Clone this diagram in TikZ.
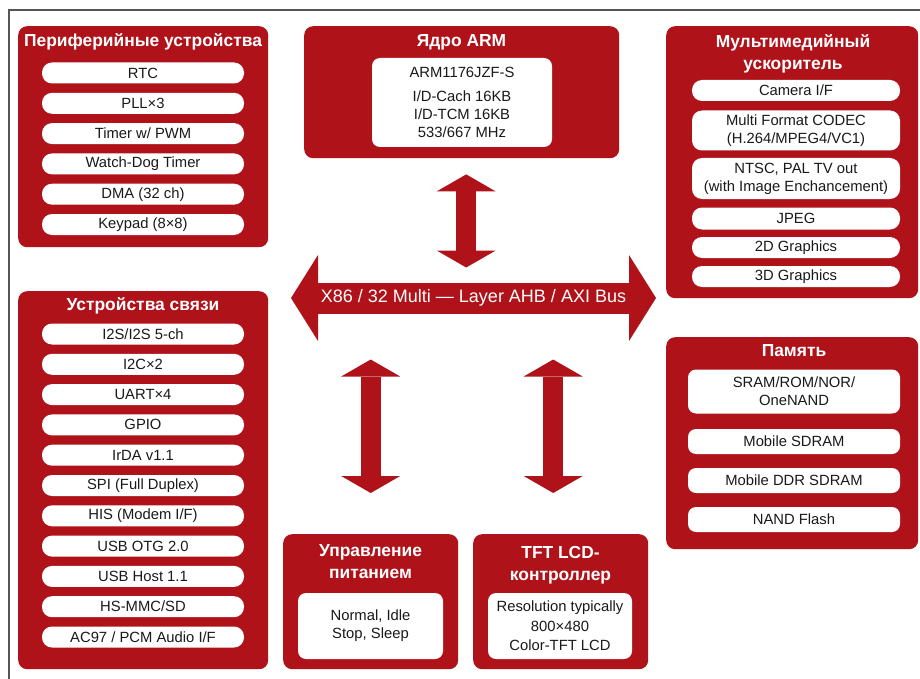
\documentclass[tikz,border=0pt]{standalone}
\usepackage{fontspec}
\setmainfont{Liberation Sans}
\usetikzlibrary{arrows.meta}
\definecolor{chipred}{RGB}{176,18,26}
\definecolor{framegray}{RGB}{85,85,85}
\tikzstyle{group} = [rectangle, 
rounded corners=9pt, 
anchor=north west, 
inner sep=0pt, 
fill=chipred]
\tikzstyle{title} = [text=white, 
align=center, 
font=\fontsize{17.4}{22}\selectfont\bfseries]
\tikzstyle{pill} = [rectangle, 
rounded corners=10pt, 
minimum height=21pt, 
inner sep=0pt, 
text centered, 
align=center, 
fill=white, 
text=black!90, 
font=\fontsize{14.8}{18}\selectfont]
\tikzstyle{card} = [pill, rounded corners=8pt]
\tikzstyle{item} = [pill, minimum width=202pt]
\tikzstyle{mmitem} = [pill, minimum width=208pt]
\tikzstyle{memitem} = [card, minimum width=212pt, minimum height=25pt]
\tikzstyle{busline} = [chipred, line width=31pt, 
{Triangle[width=86pt, length=27pt, line width=0pt]}-{Triangle[width=86pt, length=27pt, line width=0pt]}]
\tikzstyle{buslabel} = [text=white, 
minimum width=311pt, 
minimum height=31pt, 
inner sep=0pt, 
outer sep=0pt, 
font=\fontsize{18}{20}\selectfont]
\tikzstyle{link} = [chipred, line width=20pt, 
{Triangle[width=59pt, length=17pt, line width=0pt]}-{Triangle[width=59pt, length=17pt, line width=0pt]}]

\begin{document}
\begin{tikzpicture}[x=1pt, y=-1pt, node distance=30.3pt]
  \useasboundingbox (0,0) rectangle (920,679);
  \draw [framegray, line width=1.2pt] (9,679) -- (9,10) -- (920,10);

  % periphery
  \node (periph) [group, minimum width=250pt, minimum height=221pt] at (18,26) {};
  \node (periphtitle) [title] at (143,42) {Периферийные устройства};
  \node (rtc) [item] at (143,73) {RTC};
  \node (pll) [item, below of=rtc] {PLL×3};
  \node (timer) [item, below of=pll] {Timer w/ PWM};
  \node (wdt) [item, below of=timer] {Watch-Dog Timer};
  \node (dma) [item, below of=wdt] {DMA (32 ch)};
  \node (keypad) [item, below of=dma] {Keypad (8×8)};

  % communication
  \node (comm) [group, minimum width=250pt, minimum height=378pt] at (18,291) {};
  \node (commtitle) [title] at (143,306) {Устройства связи};
  \node (iis) [item] at (143,334) {I2S/I2S 5-ch};
  \node (iic) [item, below of=iis] {I2C×2};
  \node (uart) [item, below of=iic] {UART×4};
  \node (gpio) [item, below of=uart] {GPIO};
  \node (irda) [item, below of=gpio] {IrDA v1.1};
  \node (spi) [item, below of=irda] {SPI (Full Duplex)};
  \node (his) [item, below of=spi] {HIS (Modem I/F)};
  \node (otg) [item, below of=his] {USB OTG 2.0};
  \node (usbhost) [item, below of=otg] {USB Host 1.1};
  \node (mmc) [item, below of=usbhost] {HS-MMC/SD};
  \node (audio) [item, below of=mmc] {AC97 / PCM Audio I/F};

  % core
  \node (arm) [group, minimum width=315pt, minimum height=132pt] at (304,26) {};
  \node (armtitle) [title] at (461.5,42) {Ядро ARM};
  \node (armcore) [card, minimum width=180pt, minimum height=89pt] at (462,102.5)
    {ARM1176JZF-S\\[6pt] I/D-Cach 16KB\\ I/D-TCM 16KB\\ 533/667 MHz};

  % multimedia
  \node (media) [group, minimum width=252pt, minimum height=272pt] at (666,26) {};
  \node (mediatitle) [title] at (793,54) {Мультимедийный\\ ускоритель};
  \node (camera) [mmitem] at (796,90.5) {Camera I/F};
  \node (codec) [mmitem, minimum height=40pt, below of=camera, node distance=40pt]
    {Multi Format CODEC\\ (H.264/MPEG4/VC1)};
  \node (tvout) [mmitem, minimum height=41pt, below of=codec, node distance=48pt]
    {NTSC, PAL TV out\\ (with Image Enchancement)};
  \node (jpeg) [mmitem, minimum height=22pt, below of=tvout, node distance=40pt] {JPEG};
  \node (gfx2d) [mmitem, below of=jpeg, node distance=29pt] {2D Graphics};
  \node (gfx3d) [mmitem, below of=gfx2d, node distance=29pt] {3D Graphics};

  % memory
  \node (mem) [group, minimum width=252pt, minimum height=212pt] at (666,337) {};
  \node (memtitle) [title] at (794,351) {Память};
  \node (sram) [memitem, minimum height=44pt] at (794,391.5) {SRAM/ROM/NOR/\\ OneNAND};
  \node (sdram) [memitem, below of=sram, node distance=50pt] {Mobile SDRAM};
  \node (ddr) [memitem, below of=sdram, node distance=39pt] {Mobile DDR SDRAM};
  \node (nand) [memitem, below of=ddr, node distance=39pt] {NAND Flash};

  % power
  \node (power) [group, minimum width=175pt, minimum height=135pt] at (283,534) {};
  \node (powertitle) [title] at (370.5,562) {Управление\\ питанием};
  \node (modes) [card, minimum width=145pt, minimum height=66pt] at (370.5,626)
    {Normal, Idle\\ Stop, Sleep};

  % lcd
  \node (tft) [group, minimum width=175pt, minimum height=135pt] at (473,534) {};
  \node (tfttitle) [title] at (560.5,565.5) {TFT LCD-\\ контроллер};
  \node (lcd) [card, minimum width=144pt, minimum height=66pt, font=\fontsize{14.8}{19.5}\selectfont] at (560,626)
    {Resolution typically\\ 800×480\\ Color-TFT LCD};

  % bus
  \coordinate (busw) at (291,298);
  \coordinate (buse) at (656,298);
  \draw [busline] (busw) -- node (bus) [buslabel] {X86 / 32 Multi — Layer AHB / AXI Bus} (buse);

  \draw [link] ([xshift=4.5pt, yshift=-16pt]arm.south) -- ([xshift=4.5pt, yshift=15pt]arm.south |- bus.north);
  \draw [link] ([yshift=-46pt]power.north |- bus.south) -- ([yshift=41pt]power.north);
  \draw [link] ([xshift=-7.5pt, yshift=-46pt]tft.north |- bus.south) -- ([xshift=-7.5pt, yshift=41pt]tft.north);

\end{tikzpicture}
\end{document}
